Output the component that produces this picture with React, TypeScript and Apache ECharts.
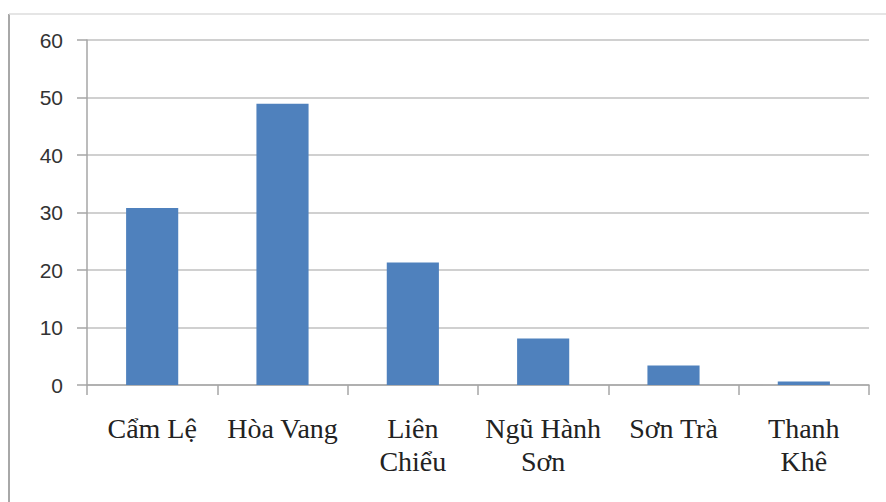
import React, { useEffect, useRef } from "react";
import * as echarts from "echarts";

// District names (line breaks where the axis label wraps)
const districts = ["Cẩm Lệ", "Hòa Vang", "Liên\nChiểu", "Ngũ Hành\nSơn", "Sơn Trà", "Thanh\nKhê"];
// Value per district
const values = [30.8, 48.9, 21.3, 8.1, 3.4, 0.6];
// Value axis range
const yMin = 0;
const yMax = 60;
const yStep = 10;

export default function App() {
  const ref = useRef<HTMLDivElement>(null);

  useEffect(() => {
    if (!ref.current) return;
    const chart = echarts.init(ref.current, undefined, { renderer: "svg" });
    chart.setOption({
      animation: false,
      backgroundColor: "#ffffff",
      graphic: [
        {
          type: "line",
          shape: { x1: 9, y1: 14, x2: 9, y2: 502 },
          style: { stroke: "#a8a8a8", lineWidth: 2 },
        },
        {
          type: "line",
          shape: { x1: 9, y1: 14, x2: 886, y2: 14 },
          style: { stroke: "#dcdcdc", lineWidth: 1.5 },
        },
      ],
      grid: { left: 87, right: 17, top: 40, bottom: 117 },
      xAxis: {
        type: "category",
        data: districts,
        axisLine: { lineStyle: { color: "#a6a6a6", width: 1.5 } },
        axisTick: { show: true, length: 10, alignWithLabel: false, lineStyle: { color: "#a6a6a6", width: 1.5 } },
        axisLabel: {
          interval: 0,
          margin: 27,
          fontFamily: "Liberation Serif",
          fontSize: 28,
          lineHeight: 33,
          color: "#222222",
        },
      },
      yAxis: {
        type: "value",
        min: yMin,
        max: yMax,
        interval: yStep,
        axisLine: { show: true, lineStyle: { color: "#a6a6a6", width: 1.5 } },
        axisTick: { show: true, inside: false, length: 10, lineStyle: { color: "#a6a6a6", width: 1.5 } },
        axisLabel: {
          margin: 24,
          fontFamily: "Liberation Sans",
          fontSize: 21,
          color: "#333333",
        },
        splitLine: { lineStyle: { color: "#c0c0c0", width: 1.5 } },
      },
      series: [
        {
          type: "bar",
          data: values,
          barWidth: "40%",
          itemStyle: { color: "#4f81bd" },
        },
      ],
    });
    return () => chart.dispose();
  }, []);

  return (
    <div
      ref={ref}
      style={{ position: "fixed", left: 0, top: 0, width: 886, height: 502 }}
    />
  );
}
